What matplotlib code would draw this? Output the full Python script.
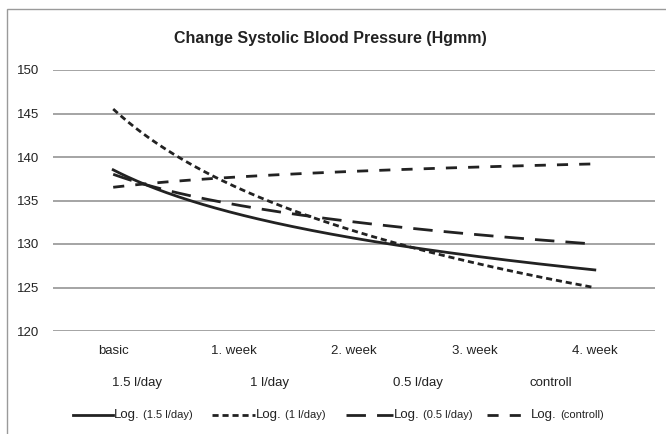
import numpy as np
import matplotlib.pyplot as plt
from matplotlib.lines import Line2D
from matplotlib.patches import Rectangle

plt.rcParams['font.family'] = ['Liberation Sans Narrow', 'Liberation Sans', 'DejaVu Sans']

# категории и значения трендов
weeks = ['basic', '1. week', '2. week', '3. week', '4. week']
groups = ['1.5 l/day', '1 l/day', '0.5 l/day', 'controll']
bp_15 = [138.5, 133.6, 130.7, 128.6, 127.0]
bp_10 = [145.5, 136.7, 131.5, 127.8, 125.0]
bp_05 = [138.0, 134.6, 132.5, 131.1, 130.0]
bp_ctrl = [136.5, 137.7, 138.4, 138.8, 139.2]

styles = [
    dict(ls='-', lw=2.0),
    dict(ls=(0, (2.2, 1.4)), lw=2.0),
    dict(ls=(0, (7, 4)), lw=2.0),
    dict(ls=(0, (4, 4)), lw=2.0),
]
W, H = 666, 434
ink = '#222222'

fig = plt.figure(figsize=(W / 100, H / 100), dpi=100)
fig.patches.append(Rectangle((7 / W, -0.1), 1.2, 1 - 9 / H + 0.1,
                             transform=fig.transFigure, fill=False,
                             edgecolor='#9a9a9a', lw=1.0))

ax = fig.add_axes([53 / W, 103 / H, 602 / W, 261 / H])

# логарифмический тренд, как в Excel: y = a + b*ln(x)
x = np.arange(1, len(weeks) + 1)
xs = np.linspace(1, len(weeks), 200)
for vals, st in zip([bp_15, bp_10, bp_05, bp_ctrl], styles):
    b, a = np.polyfit(np.log(x), vals, 1)
    ax.plot(xs - 1, a + b * np.log(xs), color=ink, **st)

ax.set_xlim(-0.5, len(weeks) - 0.5)
ax.set_ylim(120, 150)
ax.set_yticks(range(120, 151, 5))
ax.set_xticks(range(len(weeks)))
ax.set_xticklabels(weeks)
ax.tick_params(axis='both', length=0, labelsize=9.5, colors=ink)
ax.tick_params(axis='x', pad=10)
ax.tick_params(axis='y', pad=10)
ax.grid(axis='y', color='#8c8c8c', lw=1.1)
ax.set_axisbelow(True)
for s in ax.spines.values():
    s.set_visible(False)

fig.text(330 / W, 1 - 39 / H, 'Change Systolic Blood Pressure (Hgmm)',
         ha='center', va='center', fontsize=11.5, fontweight='bold', color=ink)

group_x = [137, 270, 418, 551]
for gx, g in zip(group_x, groups):
    fig.text(gx / W, 1 - 383 / H, g, ha='center', va='center',
             fontsize=9.5, color=ink)

# легенда вручную: "Log." крупнее, название ряда мельче
leg_y = 1 - 415 / H
leg_x = [(73, 113), (212, 255), (346, 393), (487, 530)]
leg_names = ['(1.5 l/day)', '(1 l/day)', '(0.5 l/day)', '(controll)']
for (x0, x1), name, st in zip(leg_x, leg_names, styles):
    fig.add_artist(Line2D([x0 / W, x1 / W], [leg_y, leg_y], transform=fig.transFigure,
                          color=ink, **st))
    fig.text((x1 + 1) / W, leg_y, 'Log.', ha='left', va='center', fontsize=9.5, color=ink)
    fig.text((x1 + 30) / W, leg_y, name, ha='left', va='center', fontsize=8, color=ink)

fig.savefig('out.png', dpi=100)
